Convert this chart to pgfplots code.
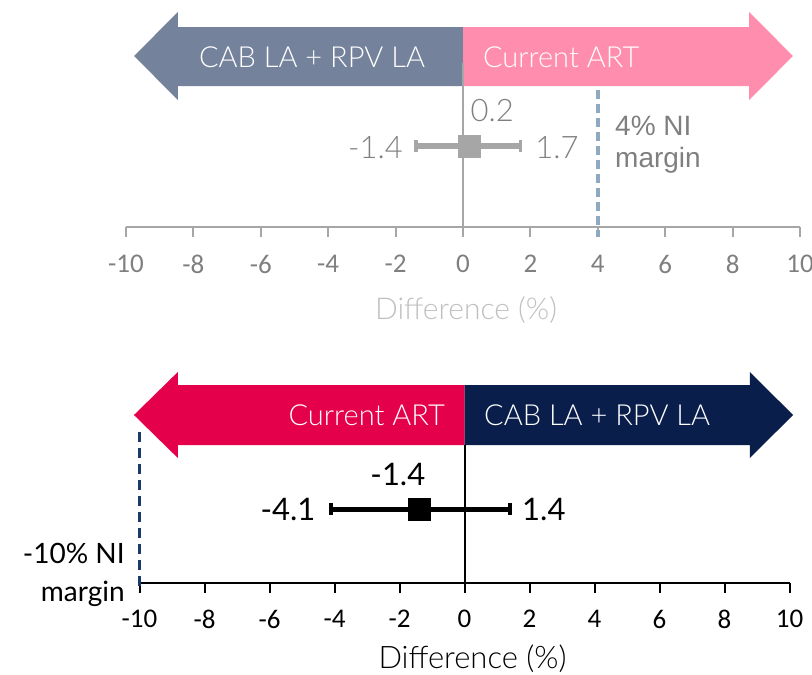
\documentclass[border=0pt]{standalone}
\usepackage{pgfplots}
\pgfplotsset{compat=1.18}
\usepackage{fontspec}
\setmainfont{Lato Light}
\newfontfamily\latoreg{Lato}
\newfontfamily\carlito{Carlito}
\newfontfamily\libsans{Liberation Sans}
\definecolor{cabgray}{HTML}{75829C}
\definecolor{artpink}{HTML}{FF8DAD}
\definecolor{artred}{HTML}{E4004A}
\definecolor{cabnavy}{HTML}{0A1E4B}
\definecolor{axgray}{HTML}{A6A6A6}
\definecolor{tickgray}{HTML}{7F7F7F}
\definecolor{lblgray}{HTML}{BFBFBF}
\definecolor{dashblue}{HTML}{8FAAC0}
\definecolor{dashnavy}{HTML}{1A3A6B}
\newcommand\fs[1]{\fontsize{#1bp}{#1bp}\selectfont}
\begin{document}
\begin{tikzpicture}
\useasboundingbox (0,0) rectangle (812bp,-675bp);
% ---------------- top panel
\begin{axis}[at={(126bp,-227bp)}, anchor=south west, scale only axis,
  width=674bp, height=215bp, xmin=-10, xmax=10, ymin=-227, ymax=-12,
  clip=false, axis x line=bottom, axis y line=none,
  axis line style={-, draw=axgray, line width=2bp},
  xtick={-10,-8,...,10}, tick align=outside, major tick length=10bp,
  tick style={draw=axgray, line width=2bp},
  /pgf/number format/assume math mode=true,
  xticklabel style={font=\carlito\fs{27}, text=tickgray, anchor=center, yshift=-27bp},
  xlabel={Difference (\%)},
  xlabel style={at={(axis description cs:0.5,0)}, anchor=center, yshift=-83bp, xshift=3bp, font=\fs{30}, text=lblgray}]
\addplot[fill=cabgray, draw=none] coordinates {(0,-27) (-8.46,-27) (-8.46,-12) (-9.76,-56) (-8.46,-100) (-8.46,-86) (0,-86)} -- cycle;
\addplot[fill=artpink, draw=none] coordinates {(0,-27) (8.49,-27) (8.49,-12) (9.79,-56) (8.49,-100) (8.49,-86) (0,-86)} -- cycle;
\addplot[draw=axgray, line width=2bp] coordinates {(0,-63) (0,-227)};
\addplot[draw=dashblue, line width=3.5bp, dash pattern=on 9bp off 5bp] coordinates {(4,-90) (4,-237)};
\addplot[draw=axgray, fill=axgray, only marks, mark=square*, mark size=11bp, mark options={line width=0.5bp},
  error bars/.cd, x dir=both, x explicit, error mark=|,
  error bar style={line width=6.5bp, draw=axgray},
  error mark options={mark size=6bp, line width=3.5bp, draw=axgray}]
  coordinates {(0.2,-146) += (1.5,0) -= (1.6,0)};
\node[font=\fs{29}, text=white] at (axis cs:-4.48,-57) {CAB LA + RPV LA};
\node[font=\fs{29}, text=white, anchor=west, inner sep=0pt] at (axis cs:0.59,-57) {Current ART};
\node[font=\fs{31}, text=tickgray, anchor=west, inner sep=0pt] at (axis cs:0.22,-111) {0.2};
\node[font=\fs{31}, text=tickgray, anchor=east, inner sep=0pt] at (axis cs:-1.78,-148) {-1.4};
\node[font=\fs{31}, text=tickgray, anchor=west, inner sep=0pt] at (axis cs:2.14,-148) {1.7};
\node[font=\libsans\fs{28}, text=tickgray, anchor=base west, inner sep=0pt] at (axis cs:4.51,-135) {4\% NI};
\node[font=\libsans\fs{28}, text=tickgray, anchor=base west, inner sep=0pt] at (axis cs:4.51,-167) {margin};
\end{axis}
% ---------------- bottom panel
\begin{axis}[at={(139.5bp,-583bp)}, anchor=south west, scale only axis,
  width=650bp, height=211bp, xmin=-10, xmax=10, ymin=-583, ymax=-372,
  clip=false, axis x line=bottom, axis y line=none,
  axis line style={-, draw=black, line width=2.5bp},
  xtick={-10,-8,...,10}, tick align=outside, major tick length=10bp,
  tick style={draw=black, line width=2bp},
  /pgf/number format/assume math mode=true,
  xticklabel style={font=\carlito\fs{27}, text=black, anchor=center, yshift=-26bp},
  xlabel={Difference (\%)},
  xlabel style={at={(axis description cs:0.5,0)}, anchor=center, yshift=-76bp, xshift=8bp, font=\fs{31}, text=black}]
\addplot[fill=artred, draw=none] coordinates {(0,-385) (-8.82,-385) (-8.82,-372) (-10.17,-415) (-8.82,-458) (-8.82,-445) (0,-445)} -- cycle;
\addplot[fill=cabnavy, draw=none] coordinates {(0,-385) (8.78,-385) (8.78,-372) (10.11,-415) (8.78,-458) (8.78,-445) (0,-445)} -- cycle;
\addplot[draw=black, line width=2bp] coordinates {(0,-445) (0,-583)};
\addplot[draw=dashnavy, line width=3.5bp, dash pattern=on 10bp off 6bp] coordinates {(-10,-432) (-10,-592)};
\addplot[draw=black, fill=black, only marks, mark=square*, mark size=11bp, mark options={line width=0.5bp},
  error bars/.cd, x dir=both, x explicit, error mark=|,
  error bar style={line width=5bp, draw=black},
  error mark options={mark size=6bp, line width=4bp, draw=black}]
  coordinates {(-1.4,-509) += (2.8,0) -= (2.7,0)};
\node[font=\fs{29}, text=white, anchor=east, inner sep=0pt] at (axis cs:-0.6,-415) {Current ART};
\node[font=\fs{29}, text=white, anchor=west, inner sep=0pt] at (axis cs:0.6,-415) {CAB LA + RPV LA};
\node[font=\latoreg\fs{31}, text=black, inner sep=0pt] at (axis cs:-2.05,-474) {-1.4};
\node[font=\latoreg\fs{31}, text=black, anchor=east, inner sep=0pt] at (axis cs:-4.58,-509) {-4.1};
\node[font=\latoreg\fs{31}, text=black, anchor=west, inner sep=0pt] at (axis cs:1.77,-509) {1.4};
\node[font=\latoreg\fs{28}, text=black, anchor=base east, inner sep=0pt] at (axis cs:-10.45,-563) {-10\% NI};
\node[font=\latoreg\fs{28}, text=black, anchor=base east, inner sep=0pt] at (axis cs:-10.45,-601) {margin};
\end{axis}
\end{tikzpicture}
\end{document}
